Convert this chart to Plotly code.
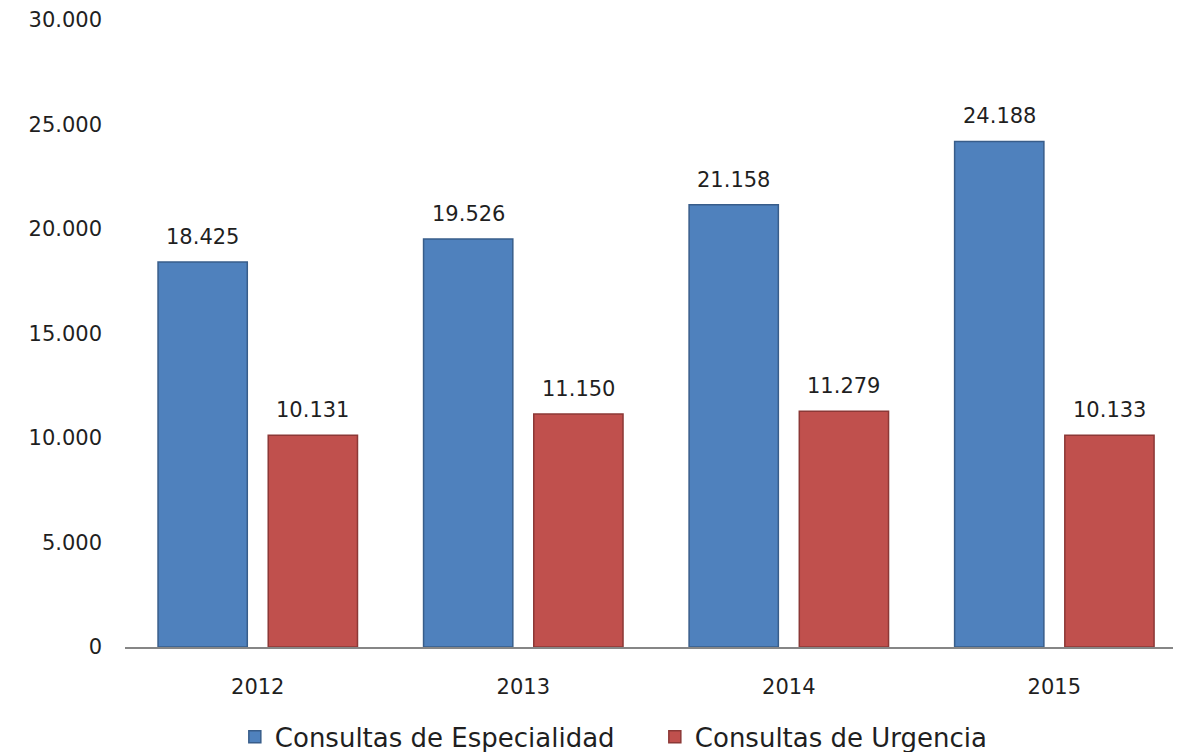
import plotly.graph_objects as go

YEARS = ["2012", "2013", "2014", "2015"]
ESPECIALIDAD = [18425, 19526, 21158, 24188]
URGENCIA = [10131, 11150, 11279, 10133]
Y_TICKS = [0, 5000, 10000, 15000, 20000, 25000, 30000]


def fmt(v):
    return f"{v:,}".replace(",", ".")


FONT = "DejaVu Sans, Verdana, sans-serif"
TXT = "#1f1f1f"

fig = go.Figure()
fig.add_trace(go.Bar(
    x=YEARS, y=ESPECIALIDAD, name="Consultas de Especialidad",
    marker=dict(color="#4F81BD", line=dict(color="#385D8A", width=1.5)),
))
fig.add_trace(go.Bar(
    x=YEARS, y=URGENCIA, name="Consultas de Urgencia",
    marker=dict(color="#C0504D", line=dict(color="#8C3836", width=1.5)),
))

# data labels above each bar (x given as category index)
for series, shift in ((ESPECIALIDAD, -55), (URGENCIA, 55)):
    for i, v in enumerate(series):
        fig.add_annotation(
            x=i, y=v, xref="x", yref="y", text=fmt(v), showarrow=False,
            xshift=shift, yshift=11, yanchor="bottom",
            font=dict(family=FONT, size=21, color=TXT),
        )

# page body has an 8px margin, so the figure is sized 8px smaller
fig.update_layout(
    width=1173, height=744,
    barmode="group", bargap=0.17, bargroupgap=0.19,
    plot_bgcolor="white", paper_bgcolor="white",
    margin=dict(l=117, r=0, t=12, b=105, autoexpand=False),
    font=dict(family=FONT, size=21, color=TXT),
    showlegend=True,
    legend=dict(orientation="h", x=0.104, xanchor="left", y=-0.106, yanchor="top",
                font=dict(size=26), itemwidth=30, entrywidth=375,
                traceorder="normal"),
)
fig.update_xaxes(
    type="category", range=[-0.5, 3.477], showline=True, linecolor="#868686",
    linewidth=1.5, showgrid=False, ticks="", ticklabelstandoff=20, automargin=False,
)
fig.update_yaxes(
    range=[0, 30000], tickvals=Y_TICKS, ticktext=[fmt(v) for v in Y_TICKS],
    showgrid=False, zeroline=False, showline=False, ticklabelstandoff=22,
    automargin=False,
)

fig.write_html("out.html")
